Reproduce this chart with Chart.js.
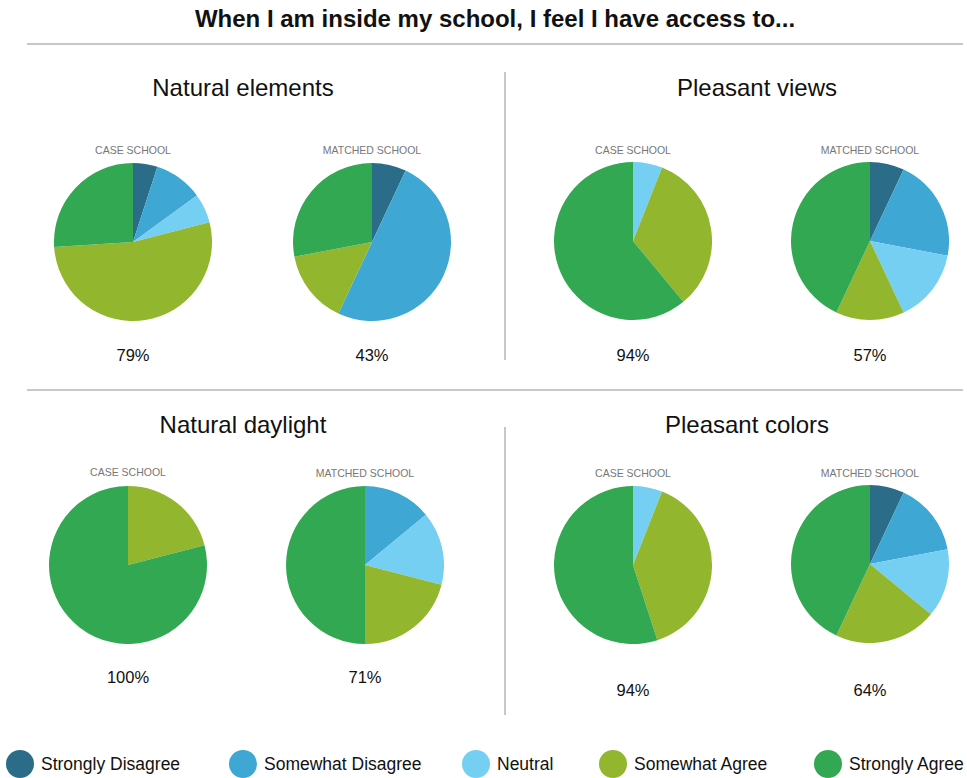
<!DOCTYPE html>
<html>
<head>
<meta charset="utf-8">
<script src="https://cdn.jsdelivr.net/npm/chart.js@4/dist/chart.umd.min.js"></script>
<style>
  html, body { margin: 0; padding: 0; background: #fff; }
  body { width: 967px; height: 778px; position: relative; overflow: hidden; font-family: 'Liberation Sans', Arial, sans-serif; color: #111; }
  .abs { position: absolute; }
  .title { left: 0; width: 990px; top: 5px; text-align: center; font-weight: bold; font-size: 24px; }
  .hline { height: 0; border-top: 2px solid #c8c8c8; }
  .vline { width: 0; border-left: 2px solid #c8c8c8; }
  .section { font-size: 24px; text-align: center; width: 400px; }
  .sub { font-size: 10.5px; color: #777; text-align: center; width: 200px; }
  .pct { font-size: 16.5px; text-align: center; width: 100px; }
  .pie { width: 158px; height: 158px; }
  .legend { top: 750px; font-size: 17.5px; display: flex; align-items: center; }
  .legend span.dot { display: inline-block; width: 28px; height: 28px; border-radius: 50%; margin-right: 7px; }
</style>
</head>
<body>
<script>
// categories (legend order)
const categories = ['Strongly Disagree', 'Somewhat Disagree', 'Neutral', 'Somewhat Agree', 'Strongly Agree'];
const colors = ['#2b6d88', '#3fa7d3', '#74cff3', '#92b62e', '#33a853'];

// slice values per pie (percent, same order as categories)
const naturalElementsCase = [5, 10, 6, 53, 26];
const naturalElementsMatched = [7, 50, 0, 15, 28];
const pleasantViewsCase = [0, 0, 6, 33, 61];
const pleasantViewsMatched = [7, 21, 15, 14, 43];
const naturalDaylightCase = [0, 0, 0, 21, 79];
const naturalDaylightMatched = [0, 14, 15, 21, 50];
const pleasantColorsCase = [0, 0, 6, 39, 55];
const pleasantColorsMatched = [7, 15, 14, 21, 43];

// agree totals shown under the pies
const agreeLabels = ['79%', '43%', '94%', '57%', '100%', '71%', '94%', '64%'];
const sectionTitles = ['Natural elements', 'Pleasant views', 'Natural daylight', 'Pleasant colors'];
</script>

<div class="abs title">When I am inside my school, I feel I have access to...</div>
<div class="abs hline" style="left:27px; width:936px; top:43px;"></div>
<div class="abs hline" style="left:27px; width:936px; top:389px;"></div>
<div class="abs vline" style="left:504px; top:72px; height:288px;"></div>
<div class="abs vline" style="left:504px; top:427px; height:288px;"></div>

<div id="layer"></div>

<div class="abs legend" style="left:6px;"><span class="dot" style="background:#2b6d88"></span>Strongly Disagree</div>
<div class="abs legend" style="left:229px;"><span class="dot" style="background:#3fa7d3"></span>Somewhat Disagree</div>
<div class="abs legend" style="left:462px;"><span class="dot" style="background:#74cff3"></span>Neutral</div>
<div class="abs legend" style="left:599px;"><span class="dot" style="background:#92b62e"></span>Somewhat Agree</div>
<div class="abs legend" style="left:814px;"><span class="dot" style="background:#33a853"></span>Strongly Agree</div>

<script>
const layer = document.getElementById('layer');

function addDiv(cls, text, left, top) {
  const d = document.createElement('div');
  d.className = 'abs ' + cls;
  d.textContent = text;
  d.style.left = left + 'px';
  d.style.top = top + 'px';
  layer.appendChild(d);
  return d;
}

// section headings
addDiv('section', sectionTitles[0], 43, 74);
addDiv('section', sectionTitles[1], 557, 74);
addDiv('section', sectionTitles[2], 43, 411);
addDiv('section', sectionTitles[3], 547, 411);

const pies = [
  { values: naturalElementsCase, sub: 'CASE SCHOOL', cx: 133, cy: 242, subY: 144, pctY: 346 },
  { values: naturalElementsMatched, sub: 'MATCHED SCHOOL', cx: 372, cy: 242, subY: 144, pctY: 346 },
  { values: pleasantViewsCase, sub: 'CASE SCHOOL', cx: 633, cy: 241, subY: 144, pctY: 346 },
  { values: pleasantViewsMatched, sub: 'MATCHED SCHOOL', cx: 870, cy: 241, subY: 144, pctY: 346 },
  { values: naturalDaylightCase, sub: 'CASE SCHOOL', cx: 128, cy: 565, subY: 466, pctY: 668 },
  { values: naturalDaylightMatched, sub: 'MATCHED SCHOOL', cx: 365, cy: 565, subY: 467, pctY: 668 },
  { values: pleasantColorsCase, sub: 'CASE SCHOOL', cx: 633, cy: 565, subY: 467, pctY: 681 },
  { values: pleasantColorsMatched, sub: 'MATCHED SCHOOL', cx: 870, cy: 564, subY: 467, pctY: 681 }
];

pies.forEach(function (p, i) {
  addDiv('sub', p.sub, p.cx - 100, p.subY);
  addDiv('pct', agreeLabels[i], p.cx - 50, p.pctY);

  const box = document.createElement('div');
  box.className = 'abs pie';
  box.style.left = (p.cx - 79) + 'px';
  box.style.top = (p.cy - 79) + 'px';
  const cv = document.createElement('canvas');
  box.appendChild(cv);
  layer.appendChild(box);

  new Chart(cv, {
    type: 'pie',
    data: {
      labels: categories,
      datasets: [{
        data: p.values,
        backgroundColor: colors,
        borderWidth: 0
      }]
    },
    options: {
      responsive: true,
      maintainAspectRatio: false,
      animation: false,
      layout: { padding: 0 },
      plugins: {
        legend: { display: false },
        tooltip: { enabled: false }
      }
    }
  });
});
</script>
</body>
</html>
